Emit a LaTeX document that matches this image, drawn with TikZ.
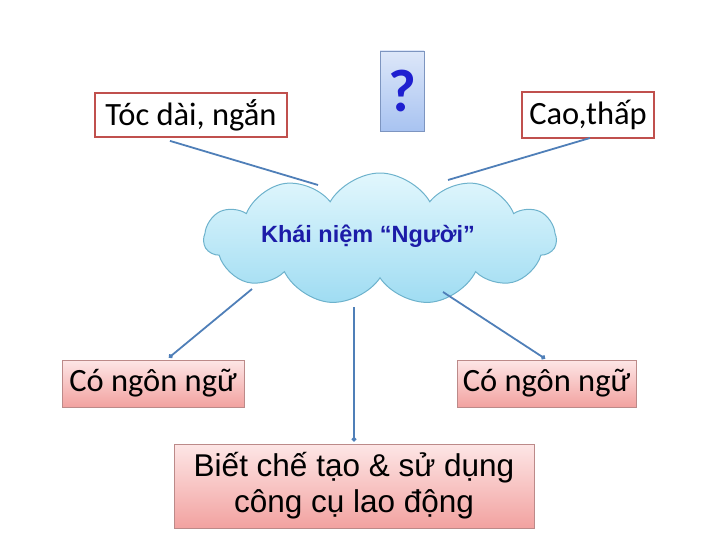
\documentclass[tikz,border=0pt]{standalone}
\usepackage{fontspec}
\setmainfont{Carlito}
\newfontfamily\arialf{Liberation Sans}
\usetikzlibrary{shapes.symbols,arrows.meta,calc}
\definecolor{boxred}{HTML}{C0504D}
\definecolor{linkblue}{HTML}{4F7FB8}
\definecolor{pinkedge}{HTML}{BC8A89}
\definecolor{pinktop}{HTML}{FDE6E6}
\definecolor{pinkbot}{HTML}{F2A2A0}
\definecolor{qtop}{HTML}{DDE7F9}
\definecolor{qbot}{HTML}{A8C3F1}
\definecolor{qedge}{HTML}{7D95C0}
\definecolor{cltop}{HTML}{E2F7FD}
\definecolor{clbot}{HTML}{9FDCF2}
\definecolor{cledge}{HTML}{6DB2CC}
\definecolor{qblue}{HTML}{1F1FD0}
\definecolor{cltext}{HTML}{1C1CA8}
\tikzset{
  redbox/.style={draw=boxred, line width=1.8pt, fill=white, inner sep=0pt,
    font=\fontsize{32.5}{36}\selectfont},
  pinkbox/.style={draw=pinkedge, line width=0.8pt, top color=pinktop, bottom color=pinkbot,
    inner sep=0pt, font=\fontsize{32.5}{36}\selectfont},
  link/.style={draw=linkblue, line width=1.8pt},
  linkarrow/.style={link, -{Circle[length=4.5pt]}},
}
\begin{document}
\begin{tikzpicture}[x=1pt,y=-1pt]
\useasboundingbox (0,0) rectangle (720,540);
% cloud
\node[cloud, cloud puffs=11, cloud puff arc=120, aspect=2.7,
  minimum width=352pt, minimum height=132pt, inner sep=0pt,
  draw=cledge, line width=1pt, top color=cltop, bottom color=clbot] (cloud) at (380,239) {};
\node[font=\arialf\bfseries\fontsize{23.5}{27}\selectfont, text=cltext] (ctext) at (368,236) {Khái niệm “Người”};
% top boxes
\node[redbox, minimum width=192pt, minimum height=44pt] (tl) at (191,115) {Tóc dài, ngắn};
\node[draw=qedge, line width=0.8pt, top color=qtop, bottom color=qbot,
  minimum width=44pt, minimum height=80pt, inner sep=0pt,
  font=\bfseries\fontsize{60}{60}\selectfont, text=qblue] (q) at (402,91) {?};
\node[redbox, minimum width=132pt, minimum height=46pt] (tr) at (588,115) {Cao,thấp};
% bottom boxes
\node[pinkbox, minimum width=182pt, minimum height=47pt] (bl) at (153,383.5) {Có ngôn ngữ};
\node[pinkbox, minimum width=179pt, minimum height=47pt] (br) at (546.5,383.5) {Có ngôn ngữ};
\node[pinkbox, minimum width=360pt, minimum height=84pt, align=center,
  font=\arialf\fontsize{31.5}{36}\selectfont] (bot) at (354,486) {Biết chế tạo \& sử dụng\\công cụ lao động};
% connectors
\draw[link] ([shift={(-21,3)}]tl.south) -- ([shift={(-62,-54)}]cloud.center);
\draw[link] ([shift={(2,23)}]tr.center) -- ([shift={(68,-59)}]cloud.center);
\draw[linkarrow] ([shift={(-128,50)}]cloud.center) -- ([shift={(16,-2)}]bl.north);
\draw[linkarrow] ([shift={(-26,68)}]cloud.center) -- ([shift={(0,-2)}]bot.north);
\draw[linkarrow] ([shift={(63,53)}]cloud.center) -- ([shift={(-1.5,-1)}]br.north);
\end{tikzpicture}
\end{document}
